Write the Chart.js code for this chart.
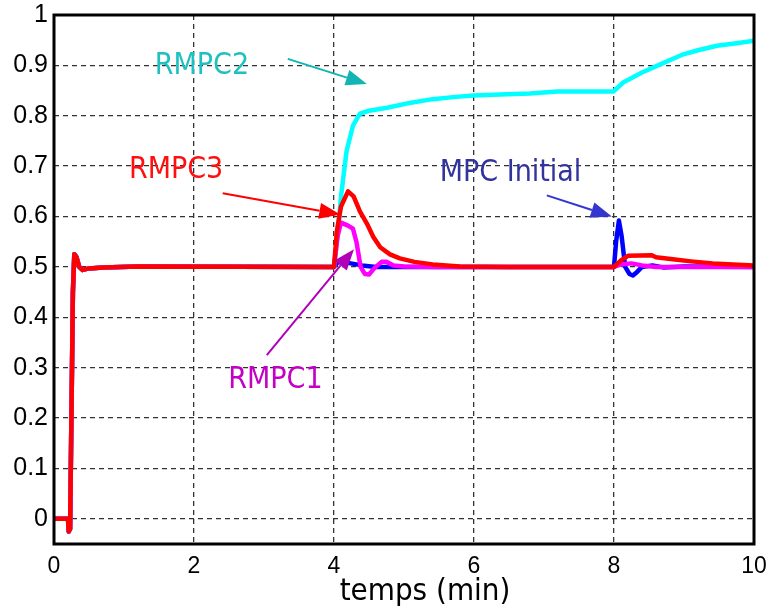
<!DOCTYPE html>
<html>
<head>
<meta charset="utf-8">
<script src="https://cdn.jsdelivr.net/npm/chart.js@4.4.1/dist/chart.umd.min.js"></script>
<style>
    body { margin: 0; background: #fff; }
    #wrap { width: 769px; height: 609px; }
</style>
</head>
<body>
<div id="wrap"><canvas id="rmpcChart"></canvas></div>
<script>
// start-up transient shared by all four runs (time in min, output)
var startT = [0, 0.2, 0.21, 0.23, 0.27, 0.29, 0.32, 0.36, 0.41, 0.5, 0.7, 1.2, 4.0];
var startY = [0, 0, -0.025, -0.02, 0.45, 0.525, 0.52, 0.5, 0.494, 0.497, 0.499, 0.501, 0.5];

var mpcT = [4.06, 4.2, 4.4, 4.6, 8.0, 8.03, 8.07, 8.11, 8.16, 8.22, 8.27, 8.33, 8.4, 8.55, 8.7, 9.0, 10];
var mpcY = [0.51, 0.508, 0.503, 0.5, 0.5, 0.55, 0.592, 0.56, 0.5, 0.486, 0.483, 0.49, 0.5, 0.503, 0.499, 0.501, 0.5];

var rmpc1T = [4.05, 4.1, 4.2, 4.27, 4.32, 4.38, 4.44, 4.5, 4.58, 4.68, 4.75, 4.85, 5.0, 5.5, 8.0, 8.1, 8.25, 8.4, 8.6, 10];
var rmpc1Y = [0.56, 0.588, 0.582, 0.576, 0.55, 0.5, 0.486, 0.485, 0.498, 0.51, 0.51, 0.503, 0.501, 0.5, 0.5, 0.505, 0.507, 0.503, 0.5, 0.5];

var rmpc2T = [4.05, 4.1, 4.18, 4.27, 4.37, 4.5, 4.76, 5.1, 5.41, 5.7, 5.99, 6.37, 6.8, 7.19, 7.99, 8.13, 8.4, 8.66, 8.99, 9.2, 9.47, 9.75, 10];
var rmpc2Y = [0.56, 0.64, 0.73, 0.78, 0.804, 0.81, 0.816, 0.826, 0.833, 0.837, 0.84, 0.842, 0.844, 0.848, 0.848, 0.866, 0.886, 0.902, 0.922, 0.93, 0.939, 0.944, 0.949];

var rmpc3T = [4.04, 4.1, 4.2, 4.28, 4.37, 4.47, 4.56, 4.66, 4.8, 4.94, 5.15, 5.41, 5.8, 6.5, 8.0, 8.1, 8.2, 8.54, 8.6, 8.84, 9.1, 9.41, 9.7, 10];
var rmpc3Y = [0.57, 0.62, 0.65, 0.64, 0.61, 0.586, 0.56, 0.539, 0.525, 0.517, 0.51, 0.505, 0.501, 0.5, 0.5, 0.513, 0.522, 0.523, 0.519, 0.515, 0.511, 0.507, 0.505, 0.503];

var xTicks = [0, 2, 4, 6, 8, 10];
var yTicks = [0, 0.1, 0.2, 0.3, 0.4, 0.5, 0.6, 0.7, 0.8, 0.9, 1];

// labels and arrows, in axis units
var notes = [
    { text: "RMPC2", t: 1.44, v: 0.883, color: "#1ec0c0" },
    { text: "RMPC3", t: 1.07, v: 0.677, color: "#ff1010" },
    { text: "MPC Initial", t: 5.51, v: 0.671, color: "#33339f" },
    { text: "RMPC1", t: 2.49, v: 0.259, color: "#c400c4" }
];
var arrows = [
    { from: [3.34, 0.913], to: [4.47, 0.863], color: "#12b4b4" },
    { from: [2.41, 0.646], to: [4.09, 0.604], color: "#ff0000" },
    { from: [7.04, 0.642], to: [7.97, 0.600], color: "#3535d0" },
    { from: [3.04, 0.325], to: [4.285, 0.535], color: "#b000b8" }
];

var annotFont = "'DejaVu Sans Condensed', 'DejaVu Sans', sans-serif";

function toPoints(tArr, yArr) {
    var ts = startT.concat(tArr);
    var ys = startY.concat(yArr);
    return ts.map(function (t, i) { return { x: t, y: ys[i] }; });
}

function drawArrow(ctx, x1, y1, x2, y2, color) {
    var ang = Math.atan2(y2 - y1, x2 - x1);
    var len = 21, half = 8;
    var bx = x2 - len * Math.cos(ang), by = y2 - len * Math.sin(ang);
    ctx.strokeStyle = color;
    ctx.fillStyle = color;
    ctx.lineWidth = 2;
    ctx.beginPath();
    ctx.moveTo(x1, y1);
    ctx.lineTo(bx, by);
    ctx.stroke();
    ctx.beginPath();
    ctx.moveTo(x2, y2);
    ctx.lineTo(bx + half * Math.sin(ang), by - half * Math.cos(ang));
    ctx.lineTo(bx - half * Math.sin(ang), by + half * Math.cos(ang));
    ctx.closePath();
    ctx.fill();
}

var notesPlugin = {
    id: "notes",
    afterDatasetsDraw: function (chart) {
        var ctx = chart.ctx;
        var xs = chart.scales.x, ys = chart.scales.y;
        var area = chart.chartArea;
        ctx.save();

        arrows.forEach(function (a) {
            drawArrow(ctx, xs.getPixelForValue(a.from[0]), ys.getPixelForValue(a.from[1]),
                xs.getPixelForValue(a.to[0]), ys.getPixelForValue(a.to[1]), a.color);
        });

        ctx.font = "30px " + annotFont;
        ctx.textAlign = "left";
        ctx.textBaseline = "alphabetic";
        notes.forEach(function (n) {
            ctx.fillStyle = n.color;
            ctx.fillText(n.text, xs.getPixelForValue(n.t), ys.getPixelForValue(n.v));
        });

        // frame
        ctx.strokeStyle = "#000";
        ctx.lineWidth = 3;
        ctx.strokeRect(area.left, area.top, area.right - area.left, area.bottom - area.top);

        // axis title
        ctx.fillStyle = "#000";
        ctx.font = "31px " + annotFont;
        ctx.textAlign = "center";
        ctx.fillText("temps (min)", (area.left + area.right) / 2 + 21, 600);
        ctx.restore();
    }
};

function makeChart() {
    var ctx = document.getElementById("rmpcChart");
    new Chart(ctx, {
        type: "line",
        data: {
            datasets: [
                { label: "RMPC3", data: toPoints(rmpc3T, rmpc3Y), borderColor: "#ff0000", order: 1 },
                { label: "RMPC1", data: toPoints(rmpc1T, rmpc1Y), borderColor: "#ff00ff", order: 2 },
                { label: "RMPC2", data: toPoints(rmpc2T, rmpc2Y), borderColor: "#00ffff", order: 3 },
                { label: "MPC Initial", data: toPoints(mpcT, mpcY), borderColor: "#0000ff", order: 4 }
            ]
        },
        options: {
            responsive: true,
            maintainAspectRatio: false,
            animation: false,
            devicePixelRatio: 1,
            layout: { padding: { top: 15, right: 15, left: 0, bottom: 0 } },
            elements: {
                point: { radius: 0 },
                line: { borderWidth: 4.5, tension: 0, borderJoinStyle: "round", borderCapStyle: "round" }
            },
            plugins: {
                legend: { display: false },
                tooltip: { enabled: false }
            },
            scales: {
                x: {
                    type: "linear",
                    min: 0,
                    max: 10,
                    afterBuildTicks: function (scale) {
                        scale.ticks = xTicks.map(function (v) { return { value: v }; });
                    },
                    afterFit: function (scale) {
                        scale.height = 65;
                        scale.paddingLeft = 0;
                        scale.paddingRight = 0;
                    },
                    ticks: {
                        color: "#000",
                        padding: 9,
                        maxRotation: 0,
                        font: { family: "'Liberation Sans', Arial, sans-serif", size: 23 }
                    },
                    grid: { color: "#333", lineWidth: 1.3, drawTicks: false },
                    border: { display: false, dash: [5, 4] }
                },
                y: {
                    min: -0.05,
                    max: 1,
                    afterBuildTicks: function (scale) {
                        scale.ticks = yTicks.map(function (v) { return { value: v }; });
                    },
                    afterFit: function (scale) {
                        scale.width = 54;
                        scale.paddingTop = 0;
                        scale.paddingBottom = 0;
                    },
                    ticks: {
                        color: "#000",
                        padding: 6,
                        font: { family: "'Liberation Sans', Arial, sans-serif", size: 25 },
                        callback: function (v) { return String(Math.round(v * 10) / 10); }
                    },
                    grid: { color: "#333", lineWidth: 1.3, drawTicks: false },
                    border: { display: false, dash: [5, 4] }
                }
            }
        },
        plugins: [notesPlugin]
    });
}

makeChart();
</script>
</body>
</html>
